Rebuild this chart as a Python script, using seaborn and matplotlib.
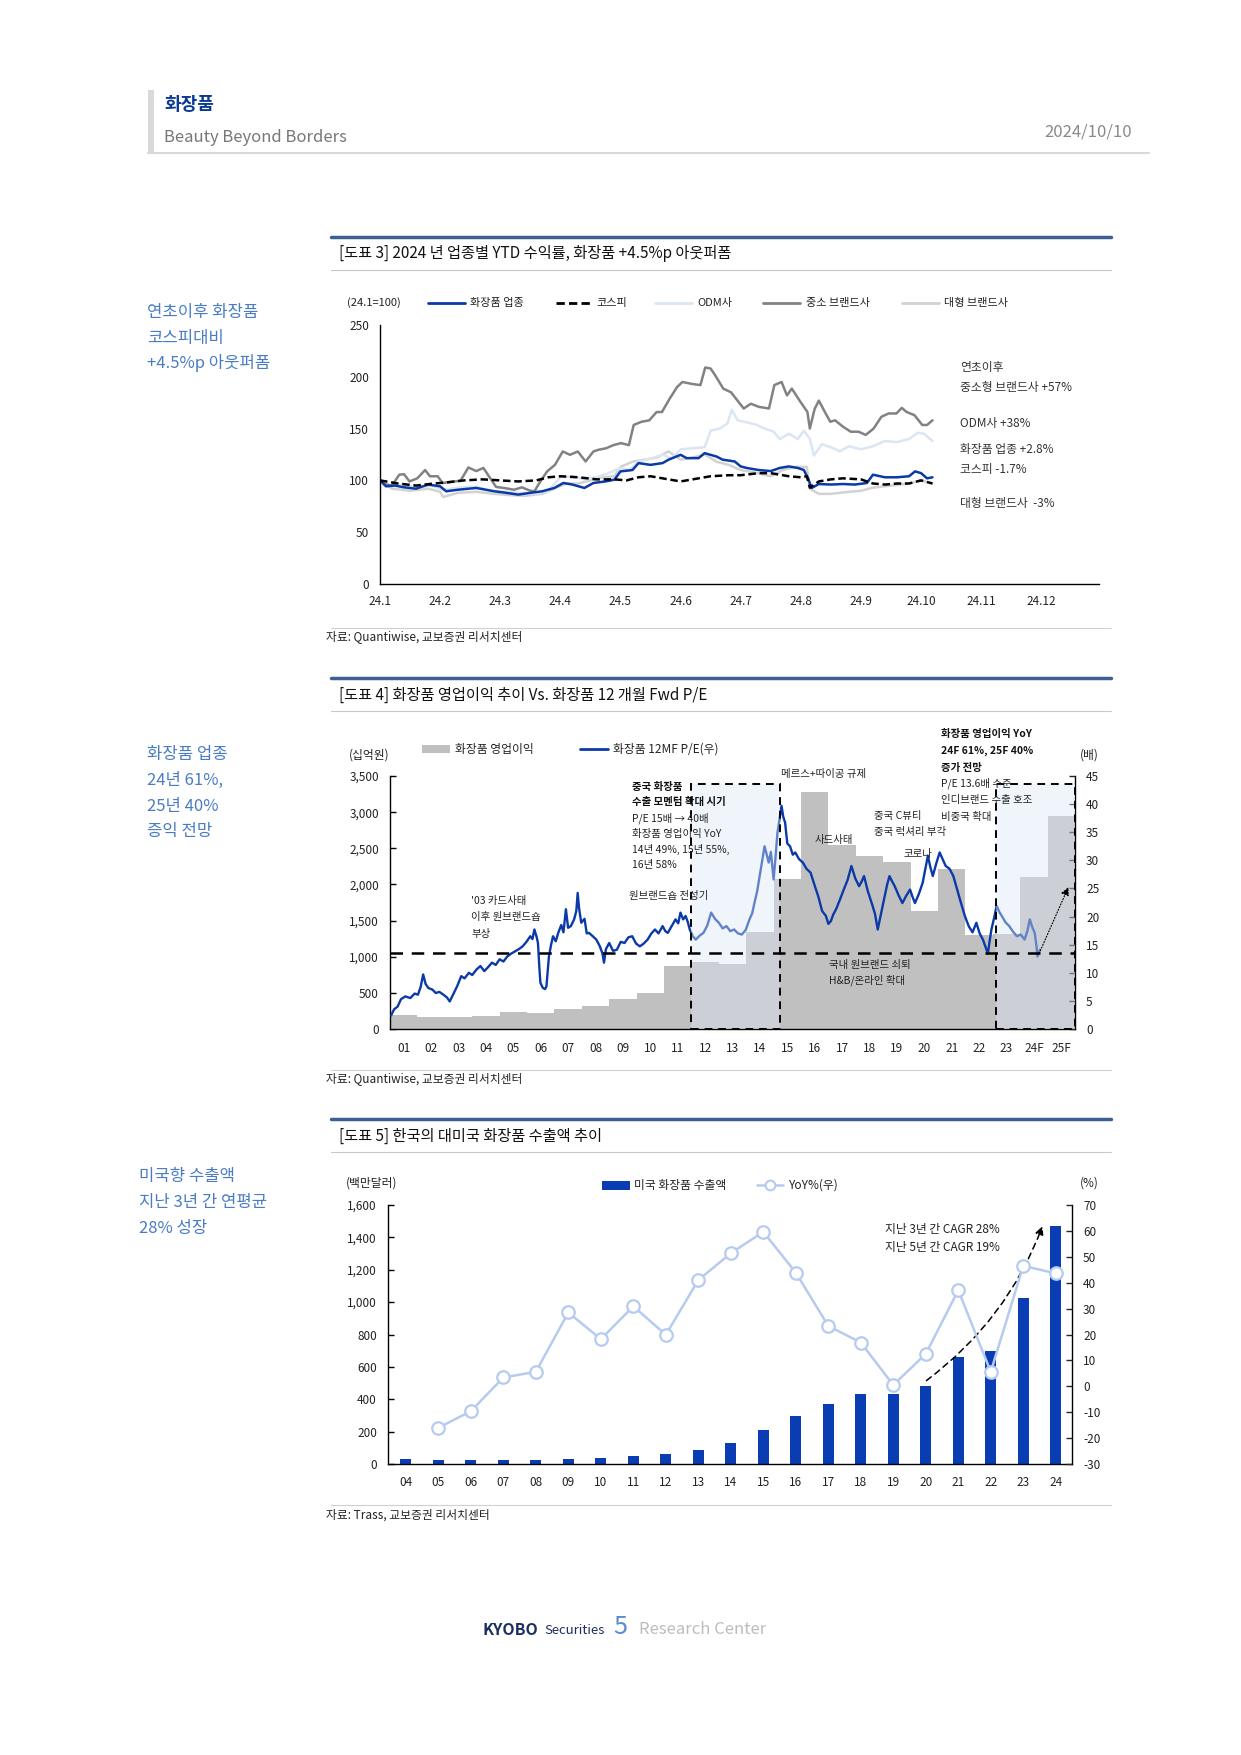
import numpy as np
import pandas as pd
import matplotlib
matplotlib.use("Agg")
import matplotlib.pyplot as plt
from matplotlib.patches import Rectangle
from matplotlib.lines import Line2D
import seaborn as sns

# ---------------- data ----------------
# [도표 3] YTD index (24.1=100), x = month index (0 = 24.1)
small_x = [0, 0.07, 0.2, 0.32, 0.4, 0.49, 0.62, 0.75, 0.83, 0.96, 1.04, 1.17, 1.34, 1.47, 1.6, 1.72,
           1.85, 1.93, 2.06, 2.23, 2.36, 2.49, 2.57, 2.65, 2.78, 2.91, 3.04, 3.16, 3.29, 3.42, 3.55,
           3.63, 3.76, 3.88, 4.01, 4.14, 4.22, 4.35, 4.48, 4.6, 4.69, 4.82, 4.94, 5.03, 5.2, 5.33,
           5.41, 5.5, 5.58, 5.71, 5.84, 5.92, 6.05, 6.17, 6.3, 6.47, 6.56, 6.68, 6.77, 6.85, 6.98,
           7.11, 7.15, 7.23, 7.3, 7.4, 7.49, 7.57, 7.7, 7.83, 7.96, 8.08, 8.21, 8.34, 8.46, 8.59,
           8.68, 8.76, 8.89, 9.02, 9.1, 9.19]
small_v = [100.7, 96.5, 95, 105.5, 106, 99, 102, 110, 104, 104, 97.5, 98.5, 99.7, 112.5, 109, 112,
           100.7, 93.7, 92.7, 91, 93.3, 90.2, 89.5, 97.5, 108.7, 115, 127.9, 124.7, 127.9, 118.3, 127.9,
           129.5, 131, 134, 136, 134, 153.5, 156.6, 158, 166, 166, 179, 190, 195, 193, 192,
           209, 208, 201, 188.6, 185, 179, 169.4, 174, 171, 169.4, 192, 195, 182, 188.6, 177,
           166, 150, 169, 177, 166, 156.6, 158, 151.9, 147, 147, 143.9, 150, 161.4, 164.6, 164.6,
           170, 166, 163, 153.5, 153.5, 158]

odm_x = [0, 0.15, 0.35, 0.6, 0.85, 1.05, 1.3, 1.6, 1.85, 2.1, 2.35, 2.6, 2.8, 3.0, 3.2, 3.4, 3.6,
         3.8, 4.0, 4.15, 4.3, 4.5, 4.7, 4.85, 5.0, 5.2, 5.4, 5.5, 5.65, 5.78, 5.85, 5.95, 6.1, 6.25,
         6.4, 6.55, 6.65, 6.8, 6.95, 7.05, 7.15, 7.22, 7.35, 7.5, 7.65, 7.8, 8.0, 8.2, 8.4, 8.6,
         8.8, 8.95, 9.05, 9.19]
odm_v = [100, 95, 96, 93, 95, 91, 93, 94, 90, 89, 88, 87, 90, 103, 104, 101, 103,
         107, 112, 110, 118, 121, 125, 121, 130, 131, 132, 148, 150, 155, 168, 158, 156, 154,
         150, 147, 140, 145, 140, 148, 140, 124, 135, 132, 128, 133, 130, 133, 138, 137,
         140, 146, 145, 138]

cos_x = [0, 0.1, 0.25, 0.4, 0.6, 0.8, 1.0, 1.1, 1.3, 1.6, 1.9, 2.1, 2.3, 2.5, 2.7, 2.9, 3.05,
         3.2, 3.4, 3.55, 3.75, 3.9, 4.0, 4.2, 4.3, 4.5, 4.7, 4.8, 5.0, 5.1, 5.3, 5.4, 5.6, 5.7,
         5.9, 6.0, 6.1, 6.3, 6.5, 6.65, 6.8, 6.95, 7.05, 7.12, 7.18, 7.3, 7.5, 7.7, 7.9, 8.1,
         8.2, 8.4, 8.6, 8.8, 8.9, 9.0, 9.1, 9.19]
cos_v = [100, 94.3, 95, 93.3, 92, 96, 94.3, 89.5, 91, 92.7, 89.5, 88, 86.3, 88, 89.5, 92.7, 97.5,
         96, 92.7, 97.5, 99, 100.7, 108.7, 110, 116.7, 115, 116.7, 120, 124.7, 121.5, 121.5, 126.3,
         123, 120, 118.3, 113.5, 112, 110, 109, 112, 113.5, 112, 110, 102, 92.7, 96.5, 96, 96.5,
         96, 97.5, 105.5, 103, 103, 104, 108.7, 107, 102, 103]

kospi_x = [0, 0.3, 0.6, 0.9, 1.1, 1.4, 1.7, 2.0, 2.3, 2.6, 2.8, 3.0, 3.3, 3.6, 3.9, 4.1, 4.3,
           4.5, 4.7, 5.0, 5.2, 5.5, 5.8, 6.0, 6.3, 6.5, 6.8, 7.0, 7.1, 7.15, 7.3, 7.5, 7.7, 8.0,
           8.2, 8.4, 8.6, 8.8, 9.0, 9.19]
kospi_v = [100, 97, 95, 97, 98, 100, 101, 100, 99, 100, 103, 104, 103, 101, 101, 100, 103,
           104, 102, 99, 101, 104, 105, 105, 107, 107, 104, 103, 104, 93, 99, 101, 102, 101,
           97, 96, 97, 97, 100, 97]

large_x = [0, 0.2, 0.5, 0.8, 1.0, 1.05, 1.3, 1.6, 1.9, 2.1, 2.4, 2.7, 2.9, 3.1, 3.3, 3.5, 3.7,
           3.9, 4.0, 4.2, 4.4, 4.6, 4.8, 5.0, 5.2, 5.4, 5.6, 5.8, 6.0, 6.2, 6.5, 6.7, 6.9, 7.1,
           7.15, 7.3, 7.5, 7.8, 8.0, 8.2, 8.5, 8.8, 9.0, 9.19]
large_v = [100, 92, 90, 92, 89, 84, 88, 89, 87, 86, 85, 87, 92, 97, 97, 100, 103,
           104, 113, 118, 120, 122, 128, 120, 122, 125, 118, 115, 110, 108, 104, 110, 113, 113,
           92, 87, 87, 89, 90, 93, 95, 97, 100, 97]

month_labels = ["24.1", "24.2", "24.3", "24.4", "24.5", "24.6", "24.7", "24.8", "24.9",
                "24.10", "24.11", "24.12"]

# [도표 4] operating profit (십억원) and 12MF P/E
op_years = ["01", "02", "03", "04", "05", "06", "07", "08", "09", "10", "11", "12", "13", "14",
            "15", "16", "17", "18", "19", "20", "21", "22", "23", "24F", "25F"]
op_profit = [194, 172, 165, 182, 236, 220, 280, 320, 413, 503, 868, 930, 902, 1344,
             2078, 3284, 2540, 2400, 2305, 1635, 2217, 1300, 1310, 2102, 2951]

pe_t = [0.04, 0.15, 0.28, 0.4, 0.56, 0.74, 0.9, 1.02, 1.12, 1.21, 1.3, 1.4, 1.55, 1.67, 1.8,
        1.95, 2.08, 2.18, 2.33, 2.45, 2.6, 2.72, 2.88, 3.0, 3.16, 3.3, 3.44, 3.58, 3.72, 3.86,
        4.0, 4.14, 4.28, 4.42, 4.56, 4.7, 4.84, 4.98, 5.12, 5.2, 5.27, 5.35, 5.4, 5.45, 5.49,
        5.58, 5.66, 5.71, 5.76, 5.8, 5.88, 5.95, 6.05, 6.14, 6.25, 6.33, 6.42, 6.5, 6.6, 6.72,
        6.8, 6.85, 6.9, 6.98, 7.1, 7.18, 7.26, 7.4, 7.53, 7.65, 7.75, 7.81, 7.88, 8.0, 8.14,
        8.28, 8.42, 8.56, 8.7, 8.84, 8.98, 9.12, 9.26, 9.4, 9.54, 9.67, 9.8, 9.95, 10.05, 10.14,
        10.28, 10.42, 10.52, 10.6, 10.7, 10.79, 10.87, 10.94, 11.05, 11.16, 11.3, 11.44, 11.58,
        11.72, 11.86, 12.0, 12.14, 12.28, 12.42, 12.56, 12.7, 12.84, 12.98, 13.12, 13.22, 13.3,
        13.4, 13.49, 13.58, 13.67, 13.75, 13.82, 13.9, 14.0, 14.07, 14.14, 14.22, 14.29, 14.35,
        14.42, 14.5, 14.6, 14.7, 14.79, 14.93, 15.07, 15.2, 15.35, 15.5, 15.63, 15.77, 15.91,
        16.0, 16.09, 16.18, 16.28, 16.42, 16.56, 16.7, 16.84, 16.98, 17.12, 17.22, 17.3, 17.44,
        17.58, 17.7, 17.8, 17.92, 18.05, 18.14, 18.23, 18.32, 18.42, 18.56, 18.7, 18.84, 18.98,
        19.07, 19.16, 19.3, 19.44, 19.54, 19.63, 19.72, 19.81, 19.94, 20.06, 20.17, 20.28,
        20.42, 20.56, 20.7, 20.84, 20.98, 21.12, 21.26, 21.4, 21.52, 21.64, 21.74, 21.82,
        21.88, 21.95, 22.05, 22.14, 22.24, 22.33, 22.46, 22.6, 22.74, 22.88, 23.02, 23.16,
        23.26, 23.35, 23.45, 23.53, 23.6, 23.63, 23.72]
pe_val = [2.4, 3.5, 4.0, 5.3, 5.8, 5.5, 6.3, 6.1, 7.5, 9.7, 8.0, 7.3, 7.0, 6.4, 6.6,
          6.1, 5.6, 4.9, 6.4, 7.6, 9.4, 9.0, 10.0, 9.6, 10.6, 11.2, 10.3, 11.0, 11.8, 11.4,
          12.4, 12.0, 12.9, 13.4, 13.8, 14.2, 14.7, 15.5, 16.5, 16.0, 17.7, 16.4, 15.3, 11.0, 8.2,
          7.3, 7.1, 7.6, 10.5, 12.9, 15.0, 16.5, 15.6, 17.1, 18.5, 17.2, 21.3, 18.0, 18.3, 19.5,
          21.0, 24.2, 21.5, 18.9, 19.6, 17.0, 17.1, 16.5, 15.9, 14.8, 13.5, 11.8, 14.2, 15.3, 13.9,
          14.1, 15.5, 15.3, 16.3, 16.5, 15.2, 14.7, 15.2, 15.9, 17.0, 17.7, 17.0, 18.3, 17.4, 17.1,
          18.3, 19.5, 18.8, 20.7, 19.5, 20.1, 19.0, 17.7, 16.5, 15.9, 16.6, 17.1, 18.4,
          20.7, 19.6, 18.9, 17.9, 18.3, 17.4, 17.7, 17.0, 16.8, 17.6, 19.5, 20.6, 22.4,
          24.5, 27.2, 30.0, 32.5, 31.0, 29.6, 31.5, 26.6, 30.5, 34.9, 37.5, 39.7, 37.8,
          36.7, 33.0, 32.5, 31.0, 31.4, 30.2, 29.6, 28.5, 27.8, 25.5, 23.6, 21.0, 20.1,
          18.7, 19.2, 20.4, 21.3, 23.0, 24.8, 26.5, 29.0, 26.8, 25.4, 26.3, 27.2, 24.5,
          22.4, 20.5, 17.7, 20.5, 23.6, 25.6, 27.2, 26.3, 25.4, 23.8, 22.4, 23.7, 24.8,
          23.5, 22.4, 24.0, 26.0, 28.5, 30.8, 28.8, 27.2, 29.5, 31.4, 30.2, 29.0,
          28.5, 27.2, 24.8, 22.4, 20.1, 18.3, 17.2, 18.9, 17.0, 15.9, 14.5, 13.4,
          15.5, 17.7, 19.8, 21.9, 20.8, 20.1, 19.0, 18.3, 17.3, 16.5, 16.8, 15.9,
          17.4, 19.5, 18.0, 17.1, 14.5, 12.9, 14.1]
pe_level = 13.6

# [도표 5] US exports (백만달러) and YoY (%)
us_years = ["04", "05", "06", "07", "08", "09", "10", "11", "12", "13", "14", "15", "16", "17",
            "18", "19", "20", "21", "22", "23", "24"]
us_export = [31, 27, 23, 23, 25, 33, 39, 51, 62, 86, 130, 208, 298, 368, 430, 430, 481, 662,
             699, 1026, 1468]
us_yoy = [np.nan, -16.0, -9.6, 3.4, 5.6, 28.5, 18.2, 30.9, 19.9, 41.0, 51.4, 59.6, 43.9, 23.3,
          16.9, 0.5, 12.5, 37.1, 5.6, 46.5, 43.6]

# ---------------- style ----------------
sns.set_theme(style="white")
plt.rcParams["font.family"] = ["Noto Sans CJK KR", "DejaVu Sans"]
plt.rcParams["axes.unicode_minus"] = False

W, H = 1241, 1755
fig = plt.figure(figsize=(W / 100, H / 100), dpi=100)
fig.patch.set_facecolor("white")

BLUE = "#0b3aa8"
SIDE = "#4a7cc4"
TXT = "#333333"


def fx(x):
    return x / W


def fy(y):
    return 1 - y / H


def axes_at(l, t, r, b):
    return fig.add_axes([fx(l), fy(b), (r - l) / W, (b - t) / H])


def txt(x, y, s, **kw):
    kw.setdefault("va", "center")
    kw.setdefault("ha", "left")
    fig.text(fx(x), fy(y), s, **kw)


def hline(x0, x1, y, **kw):
    fig.add_artist(Line2D([fx(x0), fx(x1)], [fy(y), fy(y)], **kw))


def style_axis(ax, right=False):
    for s in ["top", "right", "left", "bottom"]:
        ax.spines[s].set_visible(False)
    ax.spines["bottom"].set_visible(True)
    ax.spines["left"].set_visible(True)
    if right:
        ax.spines["right"].set_visible(True)
    for s in ax.spines.values():
        s.set_color("black")
        s.set_linewidth(1)
    ax.tick_params(axis="both", direction="in", length=4, width=1, colors="black",
                   labelsize=8.5, labelcolor="#222222", pad=8)
    ax.grid(False)


# ---------------- header ----------------
fig.add_artist(Rectangle((fx(148), fy(153)), 6 / W, 63 / H, transform=fig.transFigure,
                         color="#d9d9d9", lw=0))
hline(148, 1149, 153, color="#d9d9d9", lw=1.5)
txt(164, 104, "화장품", fontsize=13, fontweight="bold", color="#0b3a94")
txt(164, 138, "Beauty Beyond Borders", fontsize=12, color="#777777")
txt(1132, 132, "2024/10/10", fontsize=12, color="#8a8a8a", ha="right")


def chart_title(y_top, text):
    hline(331, 1111, y_top, color="#3d5f93", lw=2.5)
    txt(339, y_top + 17, text, fontsize=11, color="#111111")
    hline(331, 1111, y_top + 33, color="#c8c8c8", lw=0.8)


# ---------------- chart 1 ----------------
chart_title(237, "[도표 3] 2024 년 업종별 YTD 수익률, 화장품 +4.5%p 아웃퍼폼")
for i, s in enumerate(["연초이후 화장품", "코스피대비", "+4.5%p 아웃퍼폼"]):
    txt(147, 313 + i * 25, s, fontsize=12, color=SIDE)

ax1 = axes_at(380, 325, 1099, 584)
series1 = [
    (large_x, large_v, "#d2d2d2", "-"),
    (odm_x, odm_v, "#dbe6f5", "-"),
    (small_x, small_v, "#828282", "-"),
    (cos_x, cos_v, BLUE, "-"),
    (kospi_x, kospi_v, "black", (0, (3, 1.5))),
]
for xs, ys, c, ls in series1:
    sns.lineplot(x=xs, y=ys, ax=ax1, color=c, lw=1.8, linestyle=ls, estimator=None, sort=False)
ax1.set_xlim(0, 11.96)
ax1.set_ylim(0, 250)
ax1.set_xticks(range(12))
ax1.set_xticklabels(month_labels)
ax1.set_yticks(range(0, 251, 50))
style_axis(ax1)

# legend
txt(347, 303, "(24.1=100)", fontsize=8, color="#222222")
leg1 = [("화장품 업종", BLUE, "-", 428, 470), ("코스피", "black", (0, (3, 1.5)), 556, 596),
        ("ODM사", "#dbe6f5", "-", 655, 697), ("중소 브랜드사", "#828282", "-", 763, 806),
        ("대형 브랜드사", "#d2d2d2", "-", 902, 944)]
for lab, c, ls, hx, lx in leg1:
    fig.add_artist(Line2D([fx(hx), fx(hx + 37)], [fy(303), fy(303)], color=c, lw=2, linestyle=ls))
    txt(lx, 303, lab, fontsize=8, color="#222222")

for y, s in [(368, "연초이후"), (387, "중소형 브랜드사 +57%"), (424, "ODM사 +38%"),
             (449, "화장품 업종 +2.8%"), (470, "코스피 -1.7%"), (503, "대형 브랜드사  -3%")]:
    txt(960, y, s, fontsize=8.5, color=TXT)

hline(331, 1111, 628, color="#d0d0d0", lw=0.8)
txt(326, 637, "자료: Quantiwise, 교보증권 리서치센터", fontsize=8.5, color="#222222")

# ---------------- chart 2 ----------------
chart_title(678, "[도표 4] 화장품 영업이익 추이 Vs. 화장품 12 개월 Fwd P/E")
for i, s in enumerate(["화장품 업종", "24년 61%,", "25년 40%", "증익 전망"]):
    txt(147, 755 + i * 25.5, s, fontsize=12, color=SIDE)

ax2 = axes_at(390, 776, 1075, 1029)
df_op = pd.DataFrame({"year": op_years, "profit": op_profit})
sns.barplot(data=df_op, x="year", y="profit", ax=ax2, color="#c0c0c0", width=1.0,
            saturation=1, edgecolor="none", zorder=1)
ax2.set_xlim(-0.5, 24.5)
ax2.set_ylim(0, 3500)
ax2.set_yticks(range(0, 3501, 500))
ax2.set_yticklabels([f"{v:,}" for v in range(0, 3501, 500)])
ax2.set_xlabel("")
ax2.set_ylabel("")
style_axis(ax2, right=True)
ax2.set_xticks(range(len(op_years)))
ax2.set_xticklabels(op_years)
ax2.set_xticks(np.arange(-0.5, 25, 1), minor=True)
ax2.tick_params(axis="x", which="major", length=0, pad=9)
ax2.tick_params(axis="x", which="minor", direction="in", length=4, width=1, color="black")

ax2r = ax2.twinx()
pe_x = np.array(pe_t) - 0.5
sns.lineplot(x=pe_x, y=pe_val, ax=ax2r, color=BLUE, lw=1.7, estimator=None, sort=False)
ax2r.set_ylim(0, 45)
ax2r.set_yticks(range(0, 46, 5))
ax2r.set_ylabel("")
for s in ax2r.spines.values():
    s.set_visible(False)
ax2r.tick_params(axis="y", direction="in", length=4, width=1, labelsize=8.5,
                 labelcolor="#222222", pad=8)

for x0, x1 in [(10.5, 13.72), (21.6, 24.5)]:
    ax2r.add_patch(Rectangle((x0, 0), x1 - x0, 43.6, facecolor="#dde8f6", alpha=0.42,
                             edgecolor="none", zorder=3))
    ax2r.add_patch(Rectangle((x0, 0), x1 - x0, 43.6, facecolor="none", edgecolor="black",
                             lw=1.4, linestyle=(0, (4, 3)), zorder=4, clip_on=False))
ax2r.axhline(pe_level, color="black", lw=1.8, linestyle=(0, (5, 3.5)), zorder=4)
ax2r.annotate("", xy=(24.3, 25.7), xytext=(23.15, 13.0),
              arrowprops=dict(arrowstyle="-|>", color="black", lw=0.8, linestyle=":",
                              mutation_scale=12), zorder=5)

txt(349, 755, "(십억원)", fontsize=8.5, color="#222222")
fig.add_artist(Rectangle((fx(422), fy(753)), 28 / W, 8 / H, transform=fig.transFigure,
                         color="#c0c0c0", lw=0))
txt(455, 749, "화장품 영업이익", fontsize=8.5, color="#222222")
fig.add_artist(Line2D([fx(580), fx(608)], [fy(749), fy(749)], color=BLUE, lw=2))
txt(613, 749, "화장품 12MF P/E(우)", fontsize=8.5, color="#222222")
txt(1089, 755, "(배)", fontsize=8.5, color="#222222", ha="center")

ann = 7.5
txt(632, 787, "중국 화장품", fontsize=ann, fontweight="bold", color="#111111")
txt(632, 802, "수출 모멘텀 확대 시기", fontsize=ann, fontweight="bold", color="#111111")
for i, s in enumerate(["P/E 15배 → 40배", "화장품 영업이익 YoY", "14년 49%, 15년 55%,", "16년 58%"]):
    txt(632, 818 + i * 15.7, s, fontsize=ann, color="#222222")
txt(781, 774, "메르스+따이공 규제", fontsize=ann, color="#222222")
for i, s in enumerate(["화장품 영업이익 YoY", "24F 61%, 25F 40%", "증가 전망"]):
    txt(941, 734 + i * 17, s, fontsize=ann, fontweight="bold", color="#111111")
for i, s in enumerate(["P/E 13.6배 수준", "인디브랜드 수출 호조", "비중국 확대"]):
    txt(941, 783 + i * 17, s, fontsize=ann, color="#222222")
txt(815, 840, "사드사태", fontsize=ann, color="#222222")
txt(874, 816, "중국 C뷰티", fontsize=ann, color="#222222")
txt(874, 832, "중국 럭셔리 부각", fontsize=ann, color="#222222")
txt(903, 854, "코로나", fontsize=ann, color="#222222")
for i, s in enumerate(["'03 카드사태", "이후 원브랜드숍", "부상"]):
    txt(471, 901 + i * 16.5, s, fontsize=ann, color="#222222")
txt(629, 896, "원브랜드숍 전성기", fontsize=ann, color="#222222")
txt(829, 965, "국내 원브랜드 쇠퇴", fontsize=ann, color="#222222")
txt(829, 980, "H&B/온라인 확대", fontsize=ann, color="#222222")

hline(331, 1111, 1070, color="#d0d0d0", lw=0.8)
txt(326, 1079, "자료: Quantiwise, 교보증권 리서치센터", fontsize=8.5, color="#222222")

# ---------------- chart 3 ----------------
chart_title(1119, "[도표 5] 한국의 대미국 화장품 수출액 추이")
for i, s in enumerate(["미국향 수출액", "지난 3년 간 연평균", "28% 성장"]):
    txt(139, 1176 + i * 26, s, fontsize=12, color=SIDE)

ax3 = axes_at(388, 1205, 1072, 1464)
df_us = pd.DataFrame({"year": us_years, "export": us_export})
sns.barplot(data=df_us, x="year", y="export", ax=ax3, color="#0a3cb4", width=0.34,
            saturation=1, edgecolor="none")
ax3.set_xlim(-0.55, 20.5)
ax3.set_ylim(0, 1600)
ax3.set_yticks(range(0, 1601, 200))
ax3.set_yticklabels([f"{v:,}" for v in range(0, 1601, 200)])
ax3.set_xlabel("")
ax3.set_ylabel("")
style_axis(ax3, right=True)
ax3.set_xticks(range(len(us_years)))
ax3.set_xticklabels(us_years)
ax3.set_xticks(np.arange(-0.5, 21, 1), minor=True)
ax3.tick_params(axis="x", which="major", length=0, pad=9)
ax3.tick_params(axis="x", which="minor", direction="in", length=4, width=1, color="black")

ax3r = ax3.twinx()
sns.lineplot(x=list(range(len(us_years))), y=us_yoy, ax=ax3r, color="#b6cbee", lw=1.8,
             marker="o", markersize=9, markerfacecolor="white", markeredgecolor="#b6cbee",
             markeredgewidth=1.6, estimator=None, sort=False)
ax3r.set_ylim(-30, 70)
ax3r.set_yticks(range(-30, 71, 10))
ax3r.set_ylabel("")
for s in ax3r.spines.values():
    s.set_visible(False)
ax3r.tick_params(axis="y", direction="in", length=4, width=1, labelsize=8.5,
                 labelcolor="#222222", pad=8)
ax3.annotate("", xy=(19.62, 1485), xytext=(15.95, 505),
             arrowprops=dict(arrowstyle="-|>", color="black", lw=1.1, linestyle=(0, (4, 3)),
                             connectionstyle="arc3,rad=0.15", mutation_scale=12))

txt(346, 1183, "(백만달러)", fontsize=8.5, color="#222222")
fig.add_artist(Rectangle((fx(602), fy(1190)), 28 / W, 9 / H, transform=fig.transFigure,
                         color="#0a3cb4", lw=0))
txt(634, 1185, "미국 화장품 수출액", fontsize=8.5, color="#222222")
fig.add_artist(Line2D([fx(757), fx(783)], [fy(1185), fy(1185)], color="#b6cbee", lw=1.8))
fig.add_artist(Line2D([fx(770)], [fy(1185)], color="#b6cbee", marker="o", markersize=7,
                      markerfacecolor="white", markeredgecolor="#b6cbee", markeredgewidth=1.5))
txt(789, 1185, "YoY%(우)", fontsize=8.5, color="#222222")
txt(1089, 1183, "(%)", fontsize=8.5, color="#222222", ha="center")
txt(885, 1230, "지난 3년 간 CAGR 28%", fontsize=8.5, color="#222222")
txt(885, 1248, "지난 5년 간 CAGR 19%", fontsize=8.5, color="#222222")

hline(331, 1111, 1505, color="#d0d0d0", lw=0.8)
txt(326, 1515, "자료: Trass, 교보증권 리서치센터", fontsize=8.5, color="#222222")

# ---------------- footer ----------------
txt(482, 1630, "KYOBO", fontsize=11.5, fontweight="bold", color="#1c2f5e")
txt(544, 1630, "Securities", fontsize=9.5, color="#1c2f5e")
txt(620, 1627, "5", fontsize=18, color="#5b8bd0", ha="center")
txt(639, 1630, "Research Center", fontsize=12, color="#bdbdbd")

fig.savefig("out.png", dpi=100, facecolor="white")
